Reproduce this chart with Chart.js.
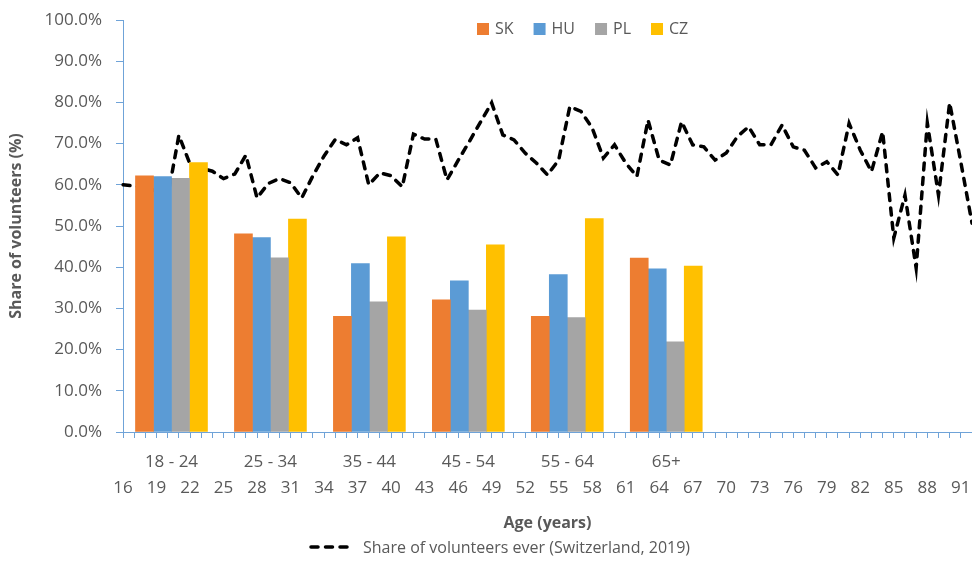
<!DOCTYPE html>
<html>
<head>
<meta charset="utf-8">
<script src="https://cdn.jsdelivr.net/npm/chart.js@4.4.0/dist/chart.umd.min.js"></script>
<style>
  html, body { margin: 0; padding: 0; background: #fff; }
  #wrap { width: 972px; height: 561px; }
</style>
</head>
<body>
<div id="wrap"><canvas id="chart" width="972" height="561"></canvas></div>
<script>
// Age groups (bars)
const groups = ["18 - 24", "25 - 34", "35 - 44", "45 - 54", "55 - 64", "65+"];
const sk = [62.2, 48.1, 28.1, 32.1, 28.1, 42.2];
const hu = [62.0, 47.2, 40.9, 36.7, 38.2, 39.6];
const pl = [61.6, 42.3, 31.6, 29.6, 27.8, 21.9];
const cz = [65.4, 51.7, 47.4, 45.4, 51.8, 40.3];

// Single years of age (line)
const ages = [16, 17, 18, 19, 20, 21, 22, 23, 24, 25, 26, 27, 28, 29, 30, 31, 32, 33, 34, 35,
  36, 37, 38, 39, 40, 41, 42, 43, 44, 45, 46, 47, 48, 49, 50, 51, 52, 53, 54, 55,
  56, 57, 58, 59, 60, 61, 62, 63, 64, 65, 66, 67, 68, 69, 70, 71, 72, 73, 74, 75,
  76, 77, 78, 79, 80, 81, 82, 83, 84, 85, 86, 87, 88, 89, 90, 91, 92];
const swiss = [60.0, 59.7, 59.3, 58.5, 57.0, 72.0, 65.0, 64.0, 63.3, 61.5, 62.6, 67.2, 56.8, 60.3, 61.5, 60.5, 56.8, 62.2, 67.0, 71.0,
  69.7, 71.4, 60.0, 62.9, 62.2, 59.5, 72.3, 71.1, 71.1, 61.2, 65.9, 70.5, 75.2, 79.9, 72.1, 70.9, 67.7, 65.3, 62.4, 66.0,
  79.0, 77.8, 73.8, 66.5, 69.7, 65.3, 62.0, 75.7, 66.0, 64.8, 75.3, 69.7, 69.2, 66.0, 67.7, 71.7, 74.1, 69.7, 69.7, 74.5,
  69.2, 68.4, 64.1, 65.6, 62.4, 74.9, 68.4, 63.2, 72.9, 47.1, 57.5, 39.8, 75.0, 57.5, 79.9, 65.5, 50.7];

const yTicks = [0, 10, 20, 30, 40, 50, 60, 70, 80, 90, 100];

const FONT = '"Open Sans", "Noto Sans", sans-serif';
const GREY = '#595959';
const AXIS = '#6FA3D8';

function barSet(label, values, color) {
  return {
    type: 'bar',
    indexAxis: 'x',
    label: label,
    data: groups.map((g, i) => ({ x: i, y: values[i] })),
    backgroundColor: color,
    xAxisID: 'xg',
    yAxisID: 'y',
    barThickness: 18,
    order: 0
  };
}

// Legends: bars on top inside the plot, line under the axis title
const legendPlugin = {
  id: 'twoLegends',
  afterDraw(chart) {
    const ctx = chart.ctx;
    ctx.save();
    ctx.font = '16px ' + FONT;
    ctx.textBaseline = 'middle';
    let x = 477;
    chart.data.datasets.filter(d => d.type === 'bar').forEach(d => {
      ctx.fillStyle = d.backgroundColor;
      ctx.fillRect(x, 23, 12, 12);
      ctx.fillStyle = GREY;
      ctx.fillText(d.label, x + 18, 29);
      x += 18 + ctx.measureText(d.label).width + 20;
    });

    const line = chart.data.datasets.find(d => d.type === 'line');
    ctx.strokeStyle = line.borderColor;
    ctx.lineWidth = line.borderWidth;
    ctx.lineCap = line.borderCapStyle;
    ctx.setLineDash(line.borderDash);
    ctx.beginPath();
    ctx.moveTo(311, 547);
    ctx.lineTo(347, 547);
    ctx.stroke();
    ctx.setLineDash([]);
    ctx.fillStyle = GREY;
    ctx.fillText(line.label, 363, 548);
    ctx.restore();
  }
};

new Chart(document.getElementById('chart'), {
  data: {
    labels: ages,
    datasets: [
      barSet('SK', sk, '#ED7D31'),
      barSet('HU', hu, '#5B9BD5'),
      barSet('PL', pl, '#A5A5A5'),
      barSet('CZ', cz, '#FFC000'),
      {
        type: 'line',
        indexAxis: 'x',
        label: 'Share of volunteers ever (Switzerland, 2019)',
        data: swiss,
        xAxisID: 'x',
        yAxisID: 'y',
        borderColor: '#000000',
        borderWidth: 3.5,
        borderDash: [7, 7.5],
        borderCapStyle: 'round',
        pointRadius: 0,
        tension: 0,
        fill: false,
        order: 1
      }
    ]
  },
  options: {
    // datasets set indexAxis 'x' themselves; 'y' here keeps the bars grouped on the shared value axis
    indexAxis: 'y',
    responsive: false,
    animation: false,
    layout: { autoPadding: false, padding: { top: 20, bottom: 26, left: 0, right: 0 } },
    plugins: { legend: { display: false }, tooltip: { enabled: false } },
    scales: {
      x: {
        type: 'category',
        position: 'bottom',
        offset: false,
        grid: { display: true, drawOnChartArea: false, drawTicks: true, tickLength: 6, color: AXIS, offset: false },
        border: { color: AXIS, width: 1 },
        ticks: {
          autoSkip: false, maxRotation: 0, minRotation: 0, padding: 40,
          color: GREY, font: { size: 17, family: FONT },
          callback: (v, i) => (ages[i] - ages[0]) % 3 === 0 ? String(ages[i]) : ''
        },
        title: {
          display: true, text: 'Age (years)', color: GREY,
          font: { size: 16, weight: 'bold', family: FONT }, padding: { top: 0, bottom: 2 }
        },
        afterFit: s => { s.height = 103; s.paddingLeft = 0; s.paddingRight = 0; }
      },
      xg: {
        type: 'linear',
        position: { y: 0 },
        min: -0.49,
        max: 8.09,
        offset: false,
        grid: { display: false, drawTicks: false },
        border: { display: false },
        afterBuildTicks: s => { s.ticks = groups.map((g, i) => ({ value: i })); },
        ticks: {
          autoSkip: false, maxRotation: 0, minRotation: 0, padding: 20,
          color: GREY, font: { size: 17, family: FONT },
          callback: v => groups[v] !== undefined ? groups[v] : ''
        },
        afterFit: s => { s.paddingLeft = 0; s.paddingRight = 0; }
      },
      y: {
        type: 'linear',
        position: 'left',
        min: yTicks[0],
        max: yTicks[yTicks.length - 1],
        afterBuildTicks: s => { s.ticks = yTicks.map(v => ({ value: v })); },
        grid: { drawOnChartArea: false, tickLength: 7, color: AXIS },
        border: { color: AXIS },
        ticks: {
          padding: 14, color: GREY, font: { size: 17, family: FONT },
          callback: v => v.toFixed(1) + '%'
        },
        title: {
          display: true, text: 'Share of volunteers (%)', color: GREY,
          font: { size: 16, weight: 'bold', family: FONT }, padding: { top: 7, bottom: 0 }
        },
        afterFit: s => { s.width = 123; s.paddingTop = 0; s.paddingBottom = 0; }
      }
    }
  },
  plugins: [legendPlugin]
});
</script>
</body>
</html>
